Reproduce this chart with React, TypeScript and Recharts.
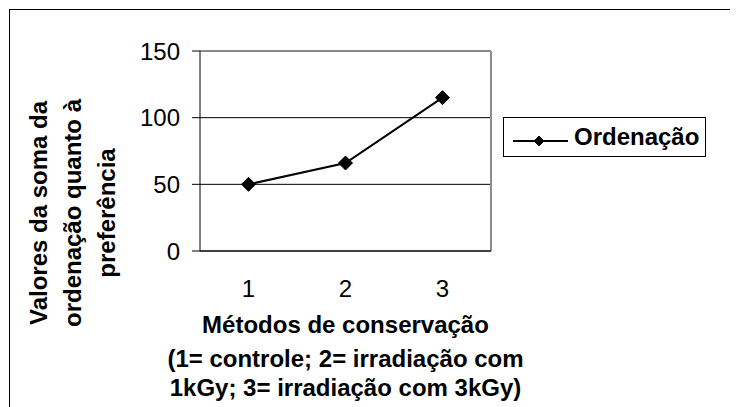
import React from 'react'
import {
  LineChart, Line, XAxis, YAxis, CartesianGrid, ReferenceLine, Legend,
} from 'recharts'

// métodos de conservação (eixo x) e soma da ordenação
const metodos = [1, 2, 3]
const ordenacao = [50, 66, 115]
const yTicks = [0, 50, 100, 150]
// divisões entre categorias, onde ficam as marcas do eixo x
const divisoes = [0.5, 1.5, 2.5, 3.5]

const tituloY = ['Valores da soma da', 'ordenação quanto à', 'preferência']
const tituloX = [
  'Métodos de conservação',
  '(1= controle; 2= irradiação com',
  '1kGy; 3= irradiação com 3kGy)',
]

const data = metodos.map((m, i) => ({ metodo: m, ordenacao: ordenacao[i] }))

const FONT = '"Liberation Sans", Arial, Helvetica, sans-serif'

const Diamond = ({ cx, cy, r = 7 }: any) => {
  if (cx == null || cy == null) return null
  return (
    <polygon
      points={`${cx},${cy - r} ${cx + r},${cy} ${cx},${cy + r} ${cx - r},${cy}`}
      fill="#000"
      stroke="#000"
    />
  )
}

const yLinhas = [28, 62, 96]
const YTitle = () => (
  <g>
    {tituloY.map((t, i) => (
      <text
        key={t}
        transform={`translate(${yLinhas[i]}, 203) rotate(-90)`}
        fontFamily={FONT}
        fontSize={24}
        fontWeight="bold"
        fill="#000"
        textAnchor="middle"
        dominantBaseline="central"
      >
        {t}
      </text>
    ))}
  </g>
)

const xLinhas = [323, 357, 386]
const XTitle = () => (
  <g>
    {tituloX.map((t, i) => (
      <text
        key={t}
        x={335.5}
        y={xLinhas[i]}
        fontFamily={FONT}
        fontSize={24}
        fontWeight="bold"
        fill="#000"
        textAnchor="middle"
      >
        {t}
      </text>
    ))}
  </g>
)

const LegendBox = () => (
  <div style={{
    width: 203, height: 40, boxSizing: 'border-box', border: '1px solid #000',
    background: '#fff', display: 'flex', alignItems: 'center',
  }}>
    <svg width={70} height={38} style={{ display: 'block', flexShrink: 0 }}>
      <line x1={9} y1={23} x2={64} y2={23} stroke="#000" strokeWidth={2} />
      <Diamond cx={35} cy={23} r={5} />
    </svg>
    <span style={{ fontFamily: FONT, fontSize: 24, fontWeight: 'bold', color: '#000', lineHeight: '38px' }}>
      Ordenação
    </span>
  </div>
)

export default function App() {
  return (
    <div style={{
      marginLeft: 1, marginTop: 1, width: 740, height: 410,
      borderTop: '1px solid #000', borderLeft: '1px solid #000', background: '#fff',
    }}>
      <LineChart
        width={728}
        height={397}
        data={data}
        margin={{ top: 41, right: 247, bottom: 115, left: 110 }}
      >
        <CartesianGrid xAxisId="rotulos" vertical={false} stroke="#000" strokeWidth={1} />
        <XAxis
          xAxisId="marcas"
          dataKey="metodo"
          type="number"
          domain={[0.5, 3.5]}
          ticks={divisoes}
          tick={false}
          tickSize={8}
          height={1}
          axisLine={{ stroke: '#000' }}
          tickLine={{ stroke: '#000' }}
        />
        <XAxis
          xAxisId="rotulos"
          dataKey="metodo"
          type="number"
          domain={[0.5, 3.5]}
          ticks={metodos}
          tickSize={0}
          tickMargin={28}
          height={40}
          axisLine={false}
          tickLine={false}
          tick={{ fontFamily: FONT, fontSize: 24, fill: '#000' }}
          label={<XTitle />}
        />
        <YAxis
          domain={[0, 150]}
          ticks={yTicks}
          width={80}
          tickSize={8}
          tickMargin={12}
          axisLine={{ stroke: '#000' }}
          tickLine={{ stroke: '#000' }}
          tick={{ fontFamily: FONT, fontSize: 24, fill: '#000' }}
          label={<YTitle />}
        />
        <ReferenceLine y={150} xAxisId="rotulos" stroke="#8c8c8c" strokeWidth={1.5} />
        <ReferenceLine x={3.5} xAxisId="rotulos" stroke="#8c8c8c" strokeWidth={2} />
        <Legend
          layout="vertical"
          align="center"
          verticalAlign="middle"
          content={<LegendBox />}
          wrapperStyle={{ left: 493, top: 107, width: 203 }}
        />
        <Line
          xAxisId="rotulos"
          type="linear"
          dataKey="ordenacao"
          name="Ordenação"
          stroke="#000"
          strokeWidth={2}
          dot={<Diamond r={7} />}
          activeDot={false}
          isAnimationActive={false}
        />
      </LineChart>
    </div>
  )
}
